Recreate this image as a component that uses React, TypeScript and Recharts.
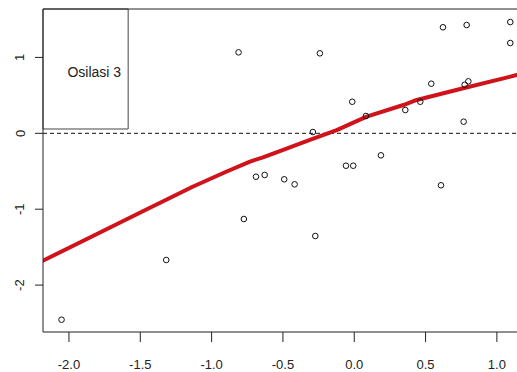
import React from 'react';
import {
  ComposedChart, XAxis, YAxis, Scatter, Line, ReferenceLine, ReferenceArea,
} from 'recharts';

const pointX = [-0.811, -0.689, -0.241, 0.622, 0.788, 1.094, 1.094, -0.014, 0.082, -0.290, 0.358, 0.463, 0.540, 0.774, 0.800, 0.767, 0.187, -0.058, -0.007, -0.628, -0.491, -0.418, 0.608, -0.774, -1.318, -0.273, -2.052];
const pointY = [1.067, -0.572, 1.054, 1.397, 1.427, 1.466, 1.190, 0.416, 0.228, 0.017, 0.307, 0.416, 0.654, 0.640, 0.685, 0.153, -0.290, -0.427, -0.427, -0.549, -0.606, -0.672, -0.685, -1.129, -1.669, -1.353, -2.456];

const smoothX = [-2.183, -1.832, -1.482, -1.318, -1.133, -0.898, -0.731, -0.640, -0.498, -0.311, -0.123, 0.087, 0.344, 0.438, 0.764, 1.139];
const smoothY = [-1.679, -1.353, -1.028, -0.876, -0.704, -0.506, -0.372, -0.318, -0.218, -0.088, 0.043, 0.219, 0.373, 0.439, 0.593, 0.768];

const xTicks = [-2.0, -1.5, -1.0, -0.5, 0.0, 0.5, 1.0];
const yTicks = [-2, -1, 0, 1];
const legendLabel = 'Osilasi 3';

const X_DOMAIN: [number, number] = [-2.182, 1.141];
const Y_DOMAIN: [number, number] = [-2.618, 1.638];

const points = pointX.map((x, i) => ({ x, y: pointY[i] }));
const smooth = smoothX.map((x, i) => ({ x, y: smoothY[i] }));

const FONT = '"Liberation Sans", Arial, sans-serif';

const XTick = (props: any) => {
  const { x, payload } = props;
  return (
    <text x={x} y={364} textAnchor="middle" dominantBaseline="central" fontFamily={FONT} fontSize={13} fill="#222">
      {Number(payload.value).toFixed(1)}
    </text>
  );
};

const YTick = (props: any) => {
  const { y, payload } = props;
  return (
    <text x={20} y={y} textAnchor="middle" dominantBaseline="central" fontFamily={FONT} fontSize={13} fill="#222"
      transform={`rotate(-90, 20, ${y})`}>
      {String(payload.value)}
    </text>
  );
};

const Circle = (props: any) => {
  const { cx, cy } = props;
  return <circle cx={cx} cy={cy} r={2.8} fill="none" stroke="#111" strokeWidth={1} />;
};

const LegendText = (props: any) => {
  const vb = props.viewBox || {};
  return (
    <text x={vb.x + vb.width - 7} y={vb.y + 63} textAnchor="end" dominantBaseline="central"
      fontFamily={FONT} fontSize={14} fill="#222">
      {legendLabel}
    </text>
  );
};

export default function App() {
  return (
    <div style={{ position: 'absolute', left: 0, top: 0, width: 517, height: 372, overflow: 'hidden', background: '#fff' }}>
      <ComposedChart width={517} height={372} margin={{ top: 9, right: 0, bottom: 0, left: 0 }}>
        <XAxis type="number" dataKey="x" domain={X_DOMAIN} ticks={xTicks} allowDataOverflow
          height={40} tickSize={10} tick={<XTick />} stroke="#222" tickLine={{ stroke: '#222' }} />
        <YAxis type="number" dataKey="y" domain={Y_DOMAIN} ticks={yTicks} allowDataOverflow
          width={43} tickSize={8} tick={<YTick />} stroke="#222" tickLine={{ stroke: '#222' }} />
        <ReferenceLine y={Y_DOMAIN[1]} stroke="#222" strokeWidth={1} ifOverflow="extendDomain" />
        <ReferenceLine y={0} stroke="#111" strokeDasharray="4 3" strokeWidth={1} />
        <ReferenceArea x1={X_DOMAIN[0]} x2={-1.585} y1={0.057} y2={Y_DOMAIN[1]} fill="none" fillOpacity={0}
          stroke="#444" strokeWidth={1} label={<LegendText />} />
        <Scatter data={points} dataKey="y" shape={<Circle />} isAnimationActive={false} />
        <Line data={smooth} dataKey="y" type="linear" stroke="#d0121b" strokeWidth={4} dot={false}
          strokeLinejoin="round" strokeLinecap="round" activeDot={false} isAnimationActive={false} />
      </ComposedChart>
    </div>
  );
}
